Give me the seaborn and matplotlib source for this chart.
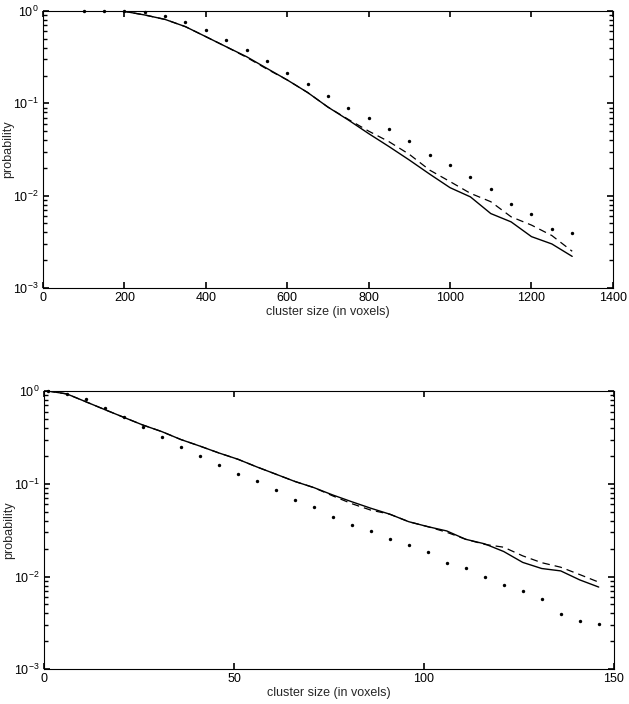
import numpy as np
import pandas as pd
import matplotlib
matplotlib.use("Agg")
import matplotlib.pyplot as plt
from matplotlib.ticker import LogLocator, NullFormatter
import seaborn as sns

# ---- data: top panel ----
top_x = [100, 150, 200, 250, 300, 350, 400, 450, 500, 550, 600, 650, 700,
         750, 800, 850, 900, 950, 1000, 1050, 1100, 1150, 1200, 1250, 1300]
top_dots = [1.0, 1.0, 1.0, 0.97, 0.88, 0.76, 0.62, 0.49, 0.375, 0.287, 0.215,
            0.162, 0.12, 0.0897, 0.070, 0.0527, 0.039, 0.0275, 0.0213, 0.016,
            0.0118, 0.00817, 0.00637, 0.00435, 0.00396]
top_solid = [1.0, 1.0, 0.99, 0.905, 0.81, 0.676, 0.527, 0.41, 0.32, 0.239,
             0.179, 0.131, 0.091, 0.066, 0.047, 0.034, 0.0243, 0.0171, 0.0122,
             0.0097, 0.0064, 0.0052, 0.0036, 0.0030, 0.0022]
top_dashed = [1.0, 1.0, 0.99, 0.905, 0.81, 0.676, 0.527, 0.41, 0.315, 0.235,
              0.179, 0.131, 0.091, 0.067, 0.050, 0.0384, 0.028, 0.0189, 0.0142,
              0.0106, 0.0086, 0.0059, 0.0048, 0.0037, 0.0025]

# ---- data: bottom panel ----
bot_x = [1, 6, 11, 16, 21, 26, 31, 36, 41, 46, 51, 56, 61, 66, 71, 76, 81,
         86, 91, 96, 101, 106, 111, 116, 121, 126, 131, 136, 141, 146]
bot_dots = [1.0, 0.93, 0.81, 0.65, 0.52, 0.41, 0.317, 0.249, 0.198, 0.161,
            0.126, 0.106, 0.085, 0.0674, 0.0567, 0.0435, 0.0363, 0.0308,
            0.0252, 0.0221, 0.0184, 0.014, 0.0123, 0.0098, 0.0082, 0.0070,
            0.0057, 0.0039, 0.0033, 0.0031]
bot_solid = [1.0, 0.93, 0.766, 0.63, 0.52, 0.43, 0.365, 0.30, 0.255, 0.215,
             0.184, 0.152, 0.127, 0.106, 0.091, 0.0757, 0.064, 0.0545, 0.047,
             0.039, 0.0345, 0.031, 0.0252, 0.0225, 0.0186, 0.0142, 0.0122,
             0.0115, 0.0092, 0.0077]
bot_dashed = [1.0, 0.93, 0.766, 0.63, 0.52, 0.43, 0.365, 0.30, 0.255, 0.215,
              0.184, 0.152, 0.127, 0.106, 0.091, 0.074, 0.061, 0.052, 0.047,
              0.039, 0.0345, 0.030, 0.0252, 0.0222, 0.0207, 0.0167, 0.0141,
              0.0126, 0.0105, 0.0087]

xlabel = "cluster size (in voxels)"
ylabel = "probability"

sns.set_style("ticks")
plt.rcParams.update({
    'font.family': ['Liberation Sans', 'DejaVu Sans'],
    'mathtext.fontset': 'custom',
    'mathtext.rm': 'Liberation Sans',
    'mathtext.it': 'Liberation Sans',
})

fig, (ax1, ax2) = plt.subplots(2, 1, figsize=(6.29, 7.04), dpi=100)
ax1.set_position([0.0684, 0.5909, 0.906, 0.3935])
ax2.set_position([0.0700, 0.0493, 0.906, 0.3953])


def draw(ax, x, dots, solid, dashed, xlim, xticks):
    df = pd.DataFrame({"x": x, "dots": dots, "solid": solid, "dashed": dashed})
    sns.lineplot(data=df, x="x", y="dashed", ax=ax, color="black", lw=0.9,
                 linestyle=(0, (6, 4)))
    sns.lineplot(data=df, x="x", y="solid", ax=ax, color="black", lw=1.0)
    sns.scatterplot(data=df, x="x", y="dots", ax=ax, color="black", s=6,
                    marker="o", linewidth=0, clip_on=False, zorder=5)
    ax.set_yscale("log")
    ax.set_ylim(1e-3, 1)
    ax.set_xlim(*xlim)
    ax.set_xticks(xticks)
    ax.set_xticklabels([str(t) for t in xticks])
    ax.set_yticks([1e-3, 1e-2, 1e-1, 1])
    ax.yaxis.set_minor_locator(LogLocator(base=10, subs=np.arange(2, 10) * 1.0,
                                          numticks=20))
    ax.yaxis.set_minor_formatter(NullFormatter())
    ax.set_xlabel(xlabel, fontsize=9, labelpad=1)
    ax.set_ylabel(ylabel, fontsize=9)
    ax.tick_params(axis="both", which="both", direction="in", top=True,
                   right=True, labelsize=9, pad=3, color="black",
                   labelcolor="black")
    ax.tick_params(axis="both", which="major", length=4.5, width=1.2)
    ax.tick_params(axis="y", which="minor", length=3, width=1.0)
    ax.tick_params(axis="x", which="minor", bottom=False, top=False)
    for s in ax.spines.values():
        s.set_linewidth(0.8)
        s.set_color("black")
    ax.yaxis.set_label_coords(-0.05, 0.5)


draw(ax1, top_x, top_dots, top_solid, top_dashed, (0, 1400),
     [0, 200, 400, 600, 800, 1000, 1200, 1400])
draw(ax2, bot_x, bot_dots, bot_solid, bot_dashed, (0, 150), [0, 50, 100, 150])

fig.savefig("out.png", dpi=100, facecolor="white")
